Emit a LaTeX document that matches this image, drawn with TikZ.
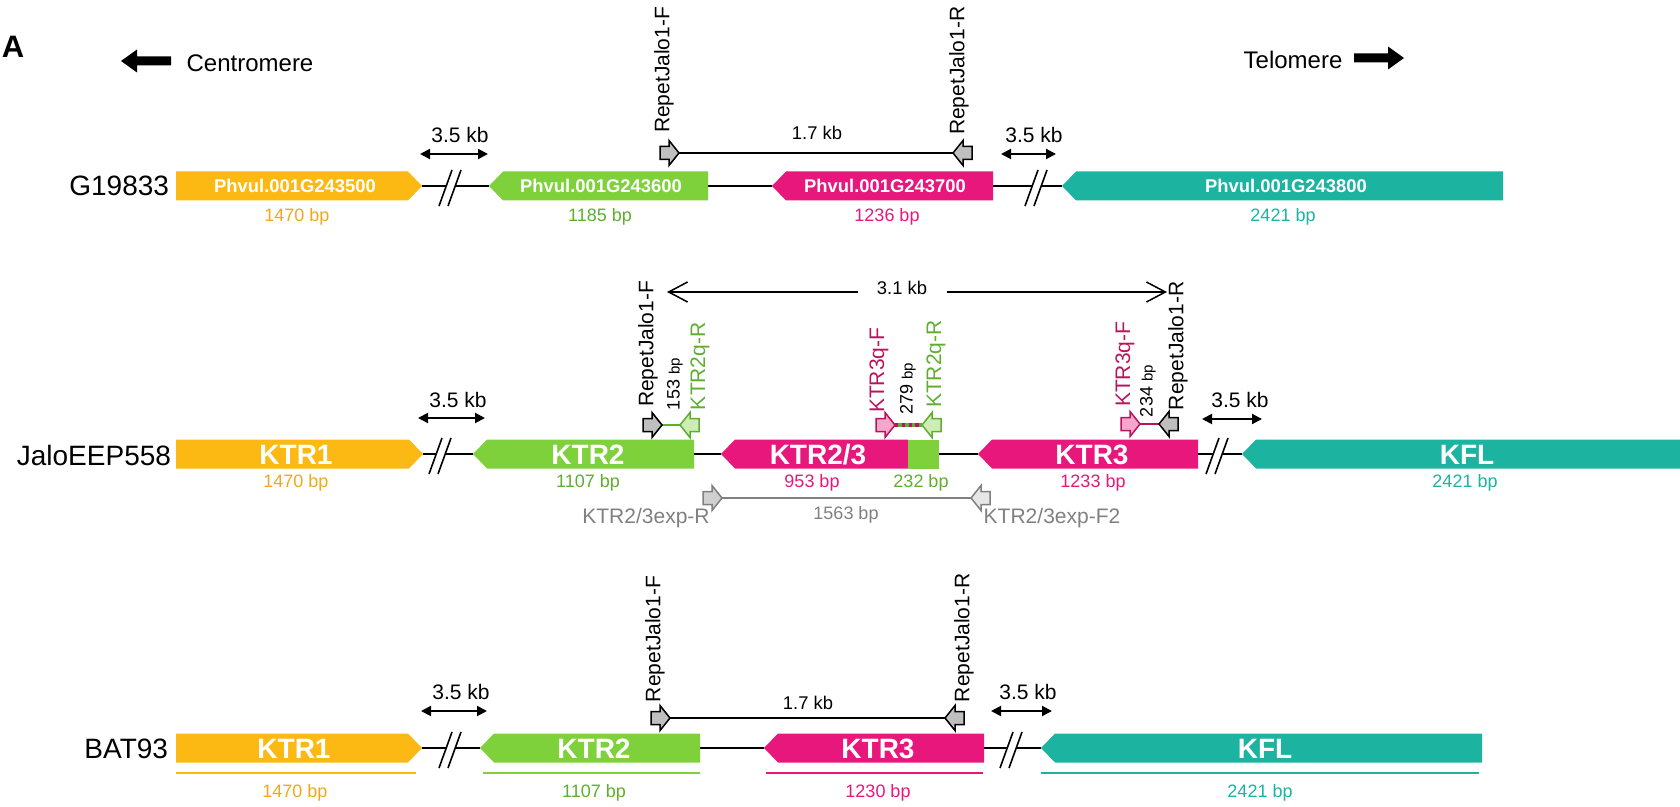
\documentclass[tikz,border=0pt]{standalone}
\usepackage{fontspec}
\setmainfont{Liberation Sans}
\usetikzlibrary{arrows.meta}

\definecolor{orangeG}{HTML}{FDB913}
\definecolor{orangeT}{HTML}{F0A81C}
\definecolor{greenG}{HTML}{7FD13B}
\definecolor{greenT}{HTML}{5FAE2E}
\definecolor{magG}{HTML}{E8177B}
\definecolor{magP}{HTML}{B8145C}
\definecolor{tealG}{HTML}{1CB4A1}
\definecolor{pinkF}{HTML}{F7A6CB}
\definecolor{lgreenF}{HTML}{CDEDB4}
\definecolor{grayF}{HTML}{BFBFBF}
\definecolor{grayT}{HTML}{808080}
\definecolor{grayL}{HTML}{D0D0D0}
\definecolor{grayLL}{HTML}{E6E6E6}

\newcommand\FSz[1]{\fontsize{#1}{#1}\selectfont}

% gene drawn as a pointed box: start x, tip x, centre y, colour
\newcommand\GeneFwd[4]{%
  \fill[#4] (#1,#3-14.5) -- (#2-14,#3-14.5) -- (#2,#3) -- (#2-14,#3+14.5) -- (#1,#3+14.5) -- cycle;}
% reverse gene: tip x, end x, centre y, colour
\newcommand\GeneRev[4]{%
  \fill[#4] (#1,#3) -- (#1+14,#3-14.5) -- (#2,#3-14.5) -- (#2,#3+14.5) -- (#1+14,#3+14.5) -- cycle;}
% primer block arrows: tip x, tip y, style
\newcommand\PrimerFwd[3]{%
  \draw[#3] (#1,#2) -- (#1-10,#2-12.5) -- (#1-10,#2-6.5) -- (#1-19,#2-6.5) -- (#1-19,#2+6.5) -- (#1-10,#2+6.5) -- (#1-10,#2+12.5) -- cycle;}
\newcommand\PrimerRev[3]{%
  \draw[#3] (#1,#2) -- (#1+10,#2-12.5) -- (#1+10,#2-6.5) -- (#1+19,#2-6.5) -- (#1+19,#2+6.5) -- (#1+10,#2+6.5) -- (#1+10,#2+12.5) -- cycle;}
% double slash marking a shortened stretch of sequence
\newcommand\BreakMark[2]{%
  \draw[brk] (#1-11,#2+20) -- (#1+2,#2-16);
  \draw[brk] (#1-2,#2+20) -- (#1+11,#2-16);}

\tikzset{
  every node/.style={inner sep=0pt, outer sep=0pt},
  backbone/.style={line width=1pt, black},
  brk/.style={line width=0.8pt, black},
  kbarrow/.style={line width=1pt, {Triangle[length=5pt,width=5pt]}-{Triangle[length=5pt,width=5pt]}},
  kblbl/.style={font=\FSz{10.5}},
  spanlbl/.style={font=\FSz{9.2}},
  rowlbl/.style={font=\FSz{14}, anchor=east},
  phv/.style={font=\bfseries\FSz{9.2}, text=white},
  ktr/.style={font=\bfseries\FSz{14}, text=white},
  sizelbl/.style={font=\FSz{9}},
  vlbl/.style={font=\FSz{10.5}, rotate=90, anchor=west},
  ampl/.style={font=\FSz{9}, rotate=90, anchor=west},
  primgray/.style={line width=0.75pt, draw=black, fill=grayF},
  primpink/.style={line width=0.75pt, draw=magP, fill=pinkF},
  primgreen/.style={line width=0.75pt, draw=greenT, fill=lgreenF},
  primexpA/.style={line width=0.75pt, draw=grayT, fill=grayL},
  primexpB/.style={line width=0.75pt, draw=grayT, fill=grayLL},
  underl/.style={line width=1.2pt},
}

\begin{document}
\begin{tikzpicture}[x=0.5pt,y=-0.5pt]
\useasboundingbox (0,0) rectangle (1680,807);

% ---------------- header ----------------
\node[font=\bfseries\FSz{15.5}] (panel) at (13,47) {A};
\fill (121,61) -- (137,49.5) -- (137,56.5) -- (171,56.5) -- (171,65.5) -- (137,65.5) -- (137,72.5) -- cycle;
\node[font=\FSz{12}] (cen) at (250,63) {Centromere};
\node[font=\FSz{12}] (tel) at (1293,60) {Telomere};
\fill (1404,58) -- (1388,46.5) -- (1388,53.5) -- (1354,53.5) -- (1354,62.5) -- (1388,62.5) -- (1388,69.5) -- cycle;

% ---------------- G19833 ----------------
\coordinate (r1o) at (422,186);
\coordinate (r1b1) at (446,186);
\coordinate (r1b2) at (455,186);
\coordinate (r1g) at (489,186);
\coordinate (r1ge) at (708,186);
\coordinate (r1m) at (772,186);
\coordinate (r1me) at (993,186);
\coordinate (r1c1) at (1032,186);
\coordinate (r1c2) at (1041,186);
\coordinate (r1t) at (1062,186);
\draw[backbone] (r1o) -- (r1b1) (r1b2) -- (r1g) (r1ge) -- (r1m) (r1me) -- (r1c1) (r1c2) -- (r1t);
\BreakMark{450}{186}
\BreakMark{1036}{186}

\GeneFwd{176}{422}{186}{orangeG}
\GeneRev{489}{708}{186}{greenG}
\GeneRev{772}{993}{186}{magG}
\GeneRev{1062}{1503}{186}{tealG}

\node[rowlbl] (row1) at (169,186) {G19833};
\node[phv] (g1a) at (295,186) {Phvul.001G243500};
\node[phv] (g1b) at (601,186) {Phvul.001G243600};
\node[phv] (g1c) at (885,186) {Phvul.001G243700};
\node[phv] (g1d) at (1286,186) {Phvul.001G243800};
\node[sizelbl, text=orangeT] (s1a) at (297,217) {1470 bp};
\node[sizelbl, text=greenT] (s1b) at (600,217) {1185 bp};
\node[sizelbl, text=magG] (s1c) at (887,217) {1236 bp};
\node[sizelbl, text=tealG] (s1d) at (1283,217) {2421 bp};

\coordinate (k1a) at (420,154); \coordinate (k1b) at (488,154);
\draw[kbarrow] (k1a) -- (k1b);
\node[kblbl] (k1l) at (460,135) {3.5 kb};
\coordinate (k1c) at (1001,154); \coordinate (k1d) at (1056,154);
\draw[kbarrow] (k1c) -- (k1d);
\node[kblbl] (k1r) at (1034,135) {3.5 kb};

\coordinate (p1F) at (679,153);
\coordinate (p1R) at (953,153);
\draw[line width=0.75pt] (p1F) -- (p1R);
\PrimerFwd{679}{153}{primgray}
\PrimerRev{953}{153}{primgray}
\node[spanlbl] (d1) at (817,133) {1.7 kb};
\node[vlbl] (n1F) at (664,133) {RepetJalo1-F};
\node[vlbl] (n1R) at (959,135) {RepetJalo1-R};

% ---------------- JaloEEP558 ----------------
\coordinate (r2o) at (423,454);
\coordinate (r2b1) at (436,454);
\coordinate (r2b2) at (445,454);
\coordinate (r2g) at (473,454);
\coordinate (r2ge) at (694,454);
\coordinate (r2m) at (721,454);
\coordinate (r2me) at (939,454);
\coordinate (r2k) at (978,454);
\coordinate (r2ke) at (1198,454);
\coordinate (r2c1) at (1213,454);
\coordinate (r2c2) at (1222,454);
\coordinate (r2t) at (1242,454);
\draw[backbone] (r2o) -- (r2b1) (r2b2) -- (r2g) (r2ge) -- (r2m) (r2me) -- (r2k) (r2ke) -- (r2c1) (r2c2) -- (r2t);
\BreakMark{440}{454}
\BreakMark{1217}{454}

\GeneFwd{176}{423}{454}{orangeG}
\GeneRev{473}{694}{454}{greenG}
\GeneRev{721}{908}{454}{magG}
\fill[greenG] (908,439.5) rectangle (939,468.5);
\GeneRev{978}{1198}{454}{magG}
\GeneRev{1242}{1700}{454}{tealG}

\node[rowlbl] (row2) at (171,455) {JaloEEP558};
\node[ktr] (g2a) at (296,455) {KTR1};
\node[ktr] (g2b) at (588,455) {KTR2};
\node[ktr] (g2c) at (818,455) {KTR2/3};
\node[ktr] (g2d) at (1092,455) {KTR3};
\node[ktr] (g2e) at (1467,455) {KFL};
\node[sizelbl, text=orangeT] (s2a) at (296,483) {1470 bp};
\node[sizelbl, text=greenT] (s2b) at (588,483) {1107 bp};
\node[sizelbl, text=magG] (s2c) at (812,483) {953 bp};
\node[sizelbl, text=greenT] (s2d) at (921,483) {232 bp};
\node[sizelbl, text=magG] (s2e) at (1093,483) {1233 bp};
\node[sizelbl, text=tealG] (s2f) at (1465,483) {2421 bp};

\coordinate (k2a) at (418,418); \coordinate (k2b) at (485,418);
\draw[kbarrow] (k2a) -- (k2b);
\node[kblbl] (k2l) at (458,400) {3.5 kb};
\coordinate (k2c) at (1202,419); \coordinate (k2d) at (1262,419);
\draw[kbarrow] (k2c) -- (k2d);
\node[kblbl] (k2r) at (1240,400) {3.5 kb};

% long-range product between the two repeat primers
\coordinate (t31L) at (667,292);
\coordinate (t31a) at (858,292);
\coordinate (t31b) at (947,292);
\coordinate (t31R) at (1167,292);
\draw[line width=0.75pt, -{Straight Barb[length=9.5pt,width=10pt]}] (t31a) -- (t31L);
\draw[line width=0.75pt, -{Straight Barb[length=9.5pt,width=10pt]}] (t31b) -- (t31R);
\node[spanlbl] (d31) at (902,288) {3.1 kb};

% qPCR products
\coordinate (q1a) at (662,425); \coordinate (q1b) at (680,425);
\draw[greenT, line width=1.2pt] (q1a) -- (q1b);
\PrimerFwd{662}{425}{primgray}
\PrimerRev{680}{425}{primgreen}
\node[vlbl] (n2F) at (648,407) {RepetJalo1-F};
\node[ampl] (a153) at (675,410) {153 {\FSz{7.5}bp}};
\node[vlbl, text=greenT] (n2q1) at (700,410) {KTR2q-R};

\coordinate (q2a) at (895,425); \coordinate (q2b) at (922,425);
\draw[greenT, line width=2pt] (q2a) -- (q2b);
\draw[magP, line width=2pt, dash pattern=on 1.7pt off 1.7pt] (q2a) -- (q2b);
\PrimerFwd{895}{425}{primpink}
\PrimerRev{922}{425}{primgreen}
\node[vlbl, text=magP] (n2q2) at (879,413) {KTR3q-F};
\node[ampl] (a279) at (908,415) {279 {\FSz{7.5}bp}};
\node[vlbl, text=greenT] (n2q3) at (936,408) {KTR2q-R};

\coordinate (q3a) at (1140,424); \coordinate (q3b) at (1159,424);
\draw[magP, line width=1.4pt] (q3a) -- (q3b);
\PrimerFwd{1140}{424}{primpink}
\PrimerRev{1159}{424}{primgray}
\node[vlbl, text=magP] (n2q4) at (1125,407) {KTR3q-F};
\node[ampl] (a234) at (1148,417) {234 {\FSz{7.5}bp}};
\node[vlbl] (n2R) at (1178,410) {RepetJalo1-R};

% expression primers
\coordinate (e1) at (722,498); \coordinate (e2) at (971,498);
\draw[grayT, line width=1pt] (e1) -- (e2);
\PrimerFwd{722}{498}{primexpA}
\PrimerRev{971}{498}{primexpB}
\node[font=\FSz{10.5}, text=grayT] (ne1) at (646,518) {KTR2/3exp-R};
\node[font=\FSz{9}, text=grayT] (de) at (846,515) {1563 bp};
\node[font=\FSz{10.5}, text=grayT] (ne2) at (1052,518) {KTR2/3exp-F2};

% ---------------- BAT93 ----------------
\coordinate (r3o) at (422,748);
\coordinate (r3b1) at (446,748);
\coordinate (r3b2) at (455,748);
\coordinate (r3g) at (480,748);
\coordinate (r3ge) at (700,748);
\coordinate (r3m) at (764,748);
\coordinate (r3me) at (984,748);
\coordinate (r3c1) at (1007,748);
\coordinate (r3c2) at (1016,748);
\coordinate (r3t) at (1041,748);
\draw[backbone] (r3o) -- (r3b1) (r3b2) -- (r3g) (r3ge) -- (r3m) (r3me) -- (r3c1) (r3c2) -- (r3t);
\BreakMark{450}{748}
\BreakMark{1011}{748}

\GeneFwd{176}{422}{748}{orangeG}
\GeneRev{480}{700}{748}{greenG}
\GeneRev{764}{984}{748}{magG}
\GeneRev{1041}{1482}{748}{tealG}

\node[rowlbl] (row3) at (168,749) {BAT93};
\node[ktr] (g3a) at (294,749) {KTR1};
\node[ktr] (g3b) at (594,749) {KTR2};
\node[ktr] (g3c) at (878,749) {KTR3};
\node[ktr] (g3d) at (1265,749) {KFL};

\draw[underl, orangeG] (176,773) -- (416,773);
\draw[underl, greenG] (483,773) -- (700,773);
\draw[underl, magG] (766,773) -- (983,773);
\draw[underl, tealG] (1041,773) -- (1479,773);

\node[sizelbl, text=orangeT] (s3a) at (295,793) {1470 bp};
\node[sizelbl, text=greenT] (s3b) at (594,793) {1107 bp};
\node[sizelbl, text=magG] (s3c) at (878,793) {1230 bp};
\node[sizelbl, text=tealG] (s3d) at (1260,793) {2421 bp};

\coordinate (k3a) at (421,711); \coordinate (k3b) at (487,711);
\draw[kbarrow] (k3a) -- (k3b);
\node[kblbl] (k3l) at (461,692) {3.5 kb};
\coordinate (k3c) at (991,711); \coordinate (k3d) at (1052,711);
\draw[kbarrow] (k3c) -- (k3d);
\node[kblbl] (k3r) at (1028,692) {3.5 kb};

\coordinate (p3F) at (670,718);
\coordinate (p3R) at (945,718);
\draw[line width=0.75pt] (p3F) -- (p3R);
\PrimerFwd{670}{718}{primgray}
\PrimerRev{945}{718}{primgray}
\node[spanlbl] (d3) at (808,703) {1.7 kb};
\node[vlbl] (n3F) at (655,702) {RepetJalo1-F};
\node[vlbl] (n3R) at (964,702) {RepetJalo1-R};

\end{tikzpicture}
\end{document}
